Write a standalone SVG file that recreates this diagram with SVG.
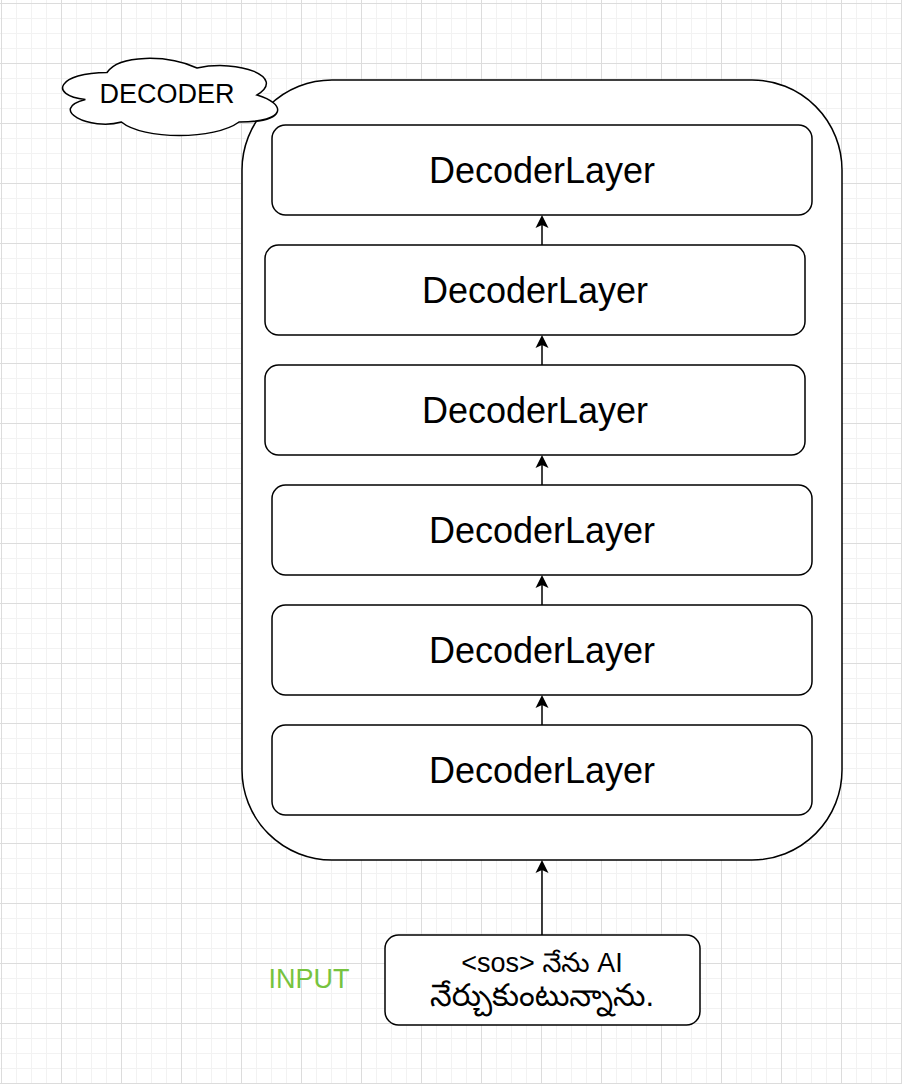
<svg xmlns="http://www.w3.org/2000/svg" width="902" height="1084" viewBox="0 0 902 1084">
<defs>
<pattern id="grid" patternUnits="userSpaceOnUse" x="1" y="3" width="60" height="60">
<path d="M15.5,0V60M30.5,0V60M45.5,0V60M0,15.5H60M0,30.5H60M0,45.5H60" stroke="#f2f2f2" stroke-width="1" fill="none"/>
<path d="M0.5,0V60M0,0.5H60" stroke="#dcdcdc" stroke-width="1" fill="none"/>
</pattern>
<marker id="arr" markerUnits="userSpaceOnUse" viewBox="-4 -7 15 14" markerWidth="15" markerHeight="14" refX="0" refY="0" orient="auto">
<path d="M10,0 L-3,-6.5 L0,0 L-3,6.5 Z" fill="#000"/>
</marker>
</defs>
<style>
.box{fill:#fff;stroke:#000;stroke-width:1.5}
.lbl{font-family:"Liberation Sans",Arial,sans-serif;font-size:36px;fill:#000;text-anchor:middle}
.sm{font-family:"Liberation Sans",Arial,"Noto Sans Telugu","Noto Sans",sans-serif;font-size:27px;fill:#000;text-anchor:middle}
.te{font-size:31px}
.edge{stroke:#000;stroke-width:1.5;fill:none;marker-end:url(#arr)}
</style>
<rect width="902" height="1084" fill="#fff"/>
<rect width="902" height="1084" fill="url(#grid)"/>

<g id="decoder-container">
<rect class="box" x="242" y="80" width="600" height="780" rx="90" ry="90"/>
</g>

<g id="decoder-cloud">
<path class="box" d="M107,72.5 C59,72.5 47,95 85.4,99.5 C47,109.4 90.2,131 121.4,122 C143,140 215,140 239,122 C287,122 287,104 257,95 C287,77 239,59 197,68 C167,54.5 119,54.5 107,72.5 Z"/>
<text class="sm" x="167" y="103">DECODER</text>
</g>

<g id="layer1">
<rect class="box" x="272" y="125" width="540" height="90" rx="13.5"/>
<text class="lbl" x="542" y="183">DecoderLayer</text>
</g>
<g id="layer2">
<rect class="box" x="265" y="245" width="540" height="90" rx="13.5"/>
<text class="lbl" x="535" y="303">DecoderLayer</text>
</g>
<g id="layer3">
<rect class="box" x="265" y="365" width="540" height="90" rx="13.5"/>
<text class="lbl" x="535" y="423">DecoderLayer</text>
</g>
<g id="layer4">
<rect class="box" x="272" y="485" width="540" height="90" rx="13.5"/>
<text class="lbl" x="542" y="543">DecoderLayer</text>
</g>
<g id="layer5">
<rect class="box" x="272" y="605" width="540" height="90" rx="13.5"/>
<text class="lbl" x="542" y="663">DecoderLayer</text>
</g>
<g id="layer6">
<rect class="box" x="272" y="725" width="540" height="90" rx="13.5"/>
<text class="lbl" x="542" y="783">DecoderLayer</text>
</g>

<g id="input">
<rect class="box" x="385" y="935" width="315" height="90" rx="13.5"/>
<text class="sm" x="542" y="972">&lt;sos&gt; నేను AI</text>
<text class="sm te" x="542" y="1006">నేర్చుకుంటున్నాను.</text>
</g>

<g id="input-label">
<text class="sm" x="309" y="988" style="fill:#77c33e">INPUT</text>
</g>

<g id="connectors">
<line class="edge" x1="542" y1="245" x2="542" y2="225"/>
<line class="edge" x1="542" y1="365" x2="542" y2="345"/>
<line class="edge" x1="542" y1="485" x2="542" y2="465"/>
<line class="edge" x1="542" y1="605" x2="542" y2="585"/>
<line class="edge" x1="542" y1="725" x2="542" y2="705"/>
<line class="edge" x1="542" y1="935" x2="542" y2="870"/>
</g>
</svg>
